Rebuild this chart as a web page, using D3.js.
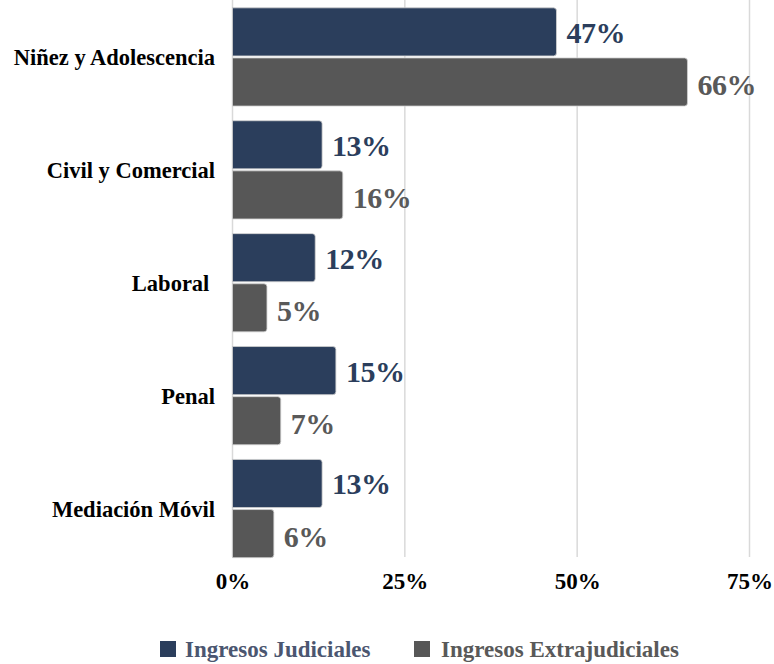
<!DOCTYPE html>
<html><head><meta charset="utf-8">
<script src="https://cdn.jsdelivr.net/npm/d3@7"></script>
<style>body{margin:0;background:#fff}svg{display:block}</style>
</head><body>
<svg id="c" width="774" height="664"></svg>
<script>
const categories = ["Niñez y Adolescencia", "Civil y Comercial", "Laboral ", "Penal", "Mediación Móvil"];
const seriesNames = ["Ingresos Judiciales", "Ingresos Extrajudiciales"];
const judiciales = [47, 13, 12, 15, 13];
const extrajudiciales = [66, 16, 5, 7, 6];
const tickValues = [0, 25, 50, 75];

const colors = ["#2b3e5c", "#575757"];
const labelColors = ["#2b3e5c", "#595959"];
const legendText = ["#4b5670", "#595959"];
const font = "'Liberation Serif','Times New Roman',serif";

const svg = d3.select("#c");
const x = d3.scaleLinear().domain([0, 75]).range([232.5, 749.5]);
const y = d3.scaleBand().domain(categories).range([0.5, 565]).paddingInner(0.13).paddingOuter(0.065);
const ySub = d3.scaleBand().domain([0, 1]).range([0, y.bandwidth()]).paddingInner(0.04);

const data = categories.map((c, i) => ({cat: c, vals: [judiciales[i], extrajudiciales[i]]}));

// gridlines
svg.append("g").selectAll("line").data(tickValues).join("line")
  .attr("x1", d => x(d)).attr("x2", d => x(d))
  .attr("y1", 0).attr("y2", 557)
  .attr("stroke", "#d9d9d9").attr("stroke-width", 1.5);

// bars with rounded right corners
function barPath(x0, y0, w, h, r) {
  r = Math.min(r, w, h / 2);
  return `M${x0},${y0}H${x0 + w - r}Q${x0 + w},${y0} ${x0 + w},${y0 + r}V${y0 + h - r}Q${x0 + w},${y0 + h} ${x0 + w - r},${y0 + h}H${x0}Z`;
}
const groups = svg.append("g").selectAll("g").data(data).join("g")
  .attr("transform", d => `translate(0,${y(d.cat)})`);
groups.selectAll("path").data(d => d.vals.map((v, k) => ({v, k}))).join("path")
  .attr("d", d => barPath(x(0), ySub(d.k), x(d.v) - x(0), ySub.bandwidth(), 3))
  .attr("fill", d => colors[d.k])
  .attr("stroke", "#d0d0d0").attr("stroke-width", 0.8);
groups.selectAll("text").data(d => d.vals.map((v, k) => ({v, k}))).join("text")
  .attr("x", d => x(d.v) + 10)
  .attr("y", d => ySub(d.k) + ySub.bandwidth() / 2 + (d.k === 0 ? 11 : 13))
  .attr("font-family", font).attr("font-weight", "bold").attr("font-size", 30)
  .attr("letter-spacing", -0.5)
  .attr("fill", d => labelColors[d.k])
  .text(d => d.v + "%");

// category labels
svg.append("g").selectAll("text").data(categories).join("text")
  .attr("x", 215).attr("y", d => y(d) + y.bandwidth() / 2 + 8)
  .attr("text-anchor", "end")
  .attr("font-family", font).attr("font-weight", "bold").attr("font-size", 22.5)
  .attr("fill", "#000")
  .attr("xml:space", "preserve")
  .style("white-space", "pre")
  .text(d => d);

// x axis
const xAxis = d3.axisBottom(x).tickValues(tickValues).tickFormat(d => d + "%").tickSize(0).tickPadding(0);
const ax = svg.append("g").attr("transform", "translate(0,573)").call(xAxis);
ax.select(".domain").remove();
ax.selectAll("text").attr("font-family", font).attr("font-weight", "bold").attr("font-size", 23).attr("fill", "#000");

// legend
const legX = [160, 414];
const leg = svg.append("g").selectAll("g").data(seriesNames).join("g")
  .attr("transform", (d, i) => `translate(${legX[i]},641)`);
leg.append("rect").attr("width", 16).attr("height", 16).attr("fill", (d, i) => colors[i]);
leg.append("text").attr("x", (d, i) => i === 0 ? 25 : 27).attr("y", 15.5)
  .attr("font-family", font).attr("font-weight", "bold").attr("font-size", 23)
  .attr("fill", (d, i) => legendText[i]).text(d => d);
</script>
</body></html>
